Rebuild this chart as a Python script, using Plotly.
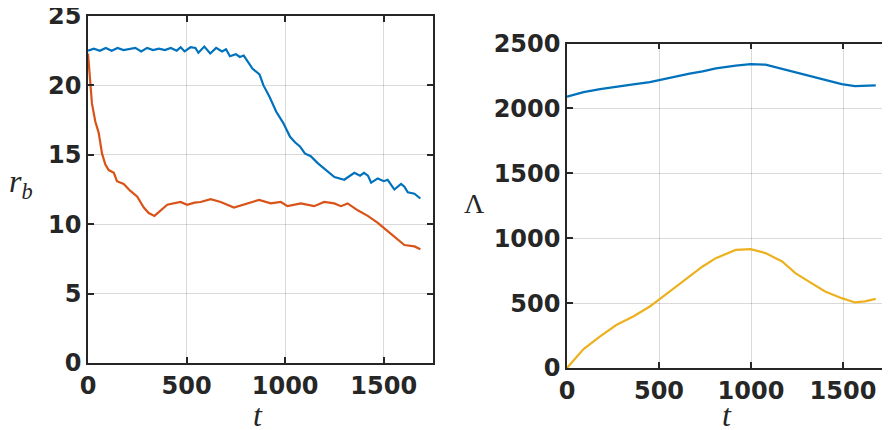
import plotly.graph_objects as go

# ---- data ----
t_rb_blue = [0, 30, 60, 90, 120, 150, 180, 210, 240, 270, 300, 330, 360, 390, 420, 450, 470, 490,
             520, 545, 560, 590, 620, 650, 680, 700, 720, 750, 770, 790, 805, 835, 870, 890, 920,
             955, 990, 1025, 1050, 1075, 1100, 1130, 1165, 1200, 1250, 1300, 1330, 1351, 1380,
             1400, 1420, 1436, 1470, 1500, 1520, 1554, 1588, 1605, 1622, 1656, 1686]
rb_blue = [22.5, 22.65, 22.5, 22.7, 22.5, 22.7, 22.55, 22.6, 22.7, 22.45, 22.7, 22.55, 22.65, 22.55,
           22.7, 22.5, 22.75, 22.45, 22.75, 22.7, 22.35, 22.8, 22.3, 22.7, 22.45, 22.6, 22.1, 22.25,
           22.05, 22.15, 21.8, 21.2, 20.8, 20.0, 19.2, 18.1, 17.3, 16.3, 15.9, 15.6, 15.1, 14.9,
           14.4, 14.0, 13.4, 13.2, 13.5, 13.7, 13.5, 13.7, 13.5, 13.0, 13.3, 13.1, 13.2, 12.5,
           12.9, 12.7, 12.3, 12.2, 11.85]

t_rb_orange = [0, 12, 20, 37, 54, 71, 88, 105, 131, 147, 181, 215, 249, 283, 308, 337, 368, 402,
               469, 503, 540, 571, 622, 673, 740, 808, 868, 927, 978, 1012, 1080, 1147, 1198,
               1249, 1283, 1317, 1368, 1419, 1470, 1520, 1571, 1605, 1656, 1686]
rb_orange = [22.3, 20.2, 18.7, 17.4, 16.6, 15.1, 14.3, 13.9, 13.7, 13.1, 12.9, 12.4, 12.0, 11.2,
             10.8, 10.6, 11.0, 11.4, 11.6, 11.4, 11.55, 11.6, 11.8, 11.6, 11.2, 11.5, 11.75,
             11.5, 11.6, 11.3, 11.5, 11.3, 11.6, 11.5, 11.3, 11.5, 11.0, 10.6, 10.1, 9.5, 8.9,
             8.5, 8.4, 8.2]

t_lam = [0, 90, 180, 270, 360, 450, 500, 594, 666, 737, 809, 917, 998, 1079, 1169, 1241, 1313,
         1403, 1493, 1565, 1619, 1678]
lam_blue = [2090, 2125, 2148, 2168, 2185, 2202, 2218, 2245, 2268, 2285, 2308, 2330, 2341, 2337,
            2305, 2278, 2248, 2218, 2187, 2172, 2172, 2177]
lam_yellow = [0, 146, 244, 333, 397, 474, 526, 628, 710, 782, 846, 910, 915, 885, 821, 731, 667,
              590, 538, 505, 513, 533]

x_ticks = [0, 500, 1000, 1500]
rb_ticks = [0, 5, 10, 15, 20, 25]
lam_ticks = [0, 500, 1000, 1500, 2000, 2500]

BLUE = "#0072BD"
ORANGE = "#D95319"
YELLOW = "#EDB120"
AX = "#262626"

# page body has an 8px margin; figure is sized so it fits the window
OFF = 8
W, H = 890 - OFF, 430 - OFF


def fx(x):
    return (x - OFF) / W


def fy(y):
    return 1 - (y - OFF) / H


fig = go.Figure()
fig.add_trace(go.Scatter(x=t_rb_blue, y=rb_blue, mode="lines", line=dict(color=BLUE, width=2.2),
                         xaxis="x", yaxis="y", showlegend=False))
fig.add_trace(go.Scatter(x=t_rb_orange, y=rb_orange, mode="lines", line=dict(color=ORANGE, width=2.2),
                         xaxis="x", yaxis="y", showlegend=False))
fig.add_trace(go.Scatter(x=t_lam, y=lam_blue, mode="lines", line=dict(color=BLUE, width=2.2),
                         xaxis="x2", yaxis="y2", showlegend=False))
fig.add_trace(go.Scatter(x=t_lam, y=lam_yellow, mode="lines", line=dict(color=YELLOW, width=2.2),
                         xaxis="x2", yaxis="y2", showlegend=False))

tickfont = dict(family="DejaVu Sans", size=24, color=AX, weight="bold")
common = dict(showline=True, linecolor=AX, linewidth=1.5, mirror="ticks", ticks="inside",
              ticklen=6, tickcolor=AX, tickwidth=1.5, showgrid=True, automargin=False,
              ticklabeloverflow="allow",
              gridcolor="rgba(0,0,0,0.15)", gridwidth=1.2, zeroline=False, tickfont=tickfont)

lab_font = dict(family="Liberation Serif", size=32, color=AX)
annots = []
for txt, (x, y), f in [("<i>t</i>", (258, 415), lab_font),
                       ("<i>t</i>", (727, 415), lab_font),
                       ("<i>r</i><sub><i>b</i></sub>", (21, 183), lab_font),
                       ("Λ", (475, 203), dict(family="Liberation Serif", size=28, color=AX))]:
    annots.append(dict(text=txt, x=fx(x), y=fy(y), xref="paper", yref="paper", showarrow=False,
                       xanchor="center", yanchor="middle", font=f))

fig.update_layout(
    width=W, height=H, margin=dict(l=0, r=0, t=0, b=0),
    paper_bgcolor="white", plot_bgcolor="white",
    xaxis=dict(domain=[fx(88), fx(433)], range=[0, 1750], tickvals=x_ticks, anchor="y", **common),
    yaxis=dict(domain=[fy(363), fy(16)], range=[0, 25], tickvals=rb_ticks, anchor="x", **common),
    xaxis2=dict(domain=[fx(567), fx(889)], range=[0, 1750], tickvals=x_ticks, anchor="y2", **common),
    yaxis2=dict(domain=[fy(368), fy(43.5)], range=[0, 2500], tickvals=lam_ticks, anchor="x2", **common),
    annotations=annots,
)

fig.write_html("out.html")
